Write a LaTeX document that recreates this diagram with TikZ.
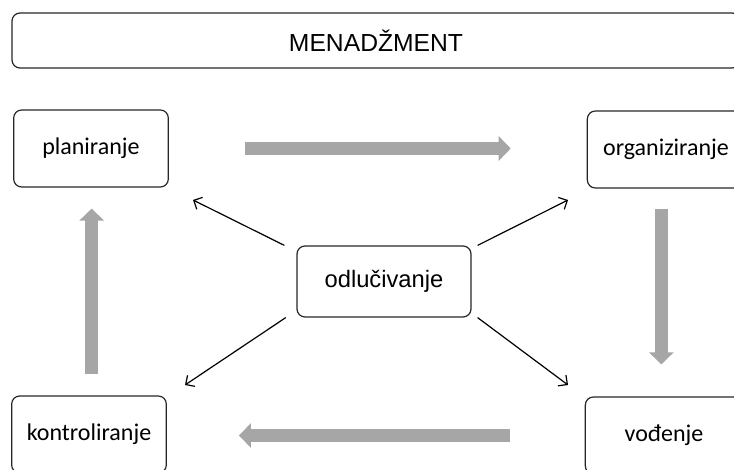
\documentclass[tikz,border=0pt]{standalone}
\usepackage{fontspec}
\setmainfont{Carlito}
\newfontfamily\arialfont{Liberation Sans}
\usetikzlibrary{arrows.meta}
\definecolor{flowgray}{HTML}{A6A6A6}
\tikzset{
  box/.style={rectangle, rounded corners=6pt, draw=black!85, line width=0.9pt, minimum width=116pt, minimum height=57.75pt, font=\fontsize{18}{21}\selectfont},
  flow/.style={draw=flowgray, line width=9.75pt, -{Triangle[width=18pt,length=9pt]}},
  link/.style={line width=0.9pt, -{Straight Barb[length=5pt,width=10pt]}}
}
\begin{document}
\begin{tikzpicture}[x=0.75pt, y=-0.75pt]
    \useasboundingbox (0,0) rectangle (734,470);
    \node[box, minimum width=546pt, minimum height=41.25pt, font=\arialfont\fontsize{18.5}{22}\selectfont] (mgmt) at (376,40.5) {MENADŽMENT};

    \node[box] (plan) at (91,148.5) {planiranje};
    \node[box, minimum width=118pt] (org) at (666,149.5) {organiziranje};
    \node[box] (kon) at (89,434.5) {kontroliranje};
    \node[box, minimum width=118pt] (vod) at (664,435.5) {vođenje};
    \node[box, minimum width=130.5pt, minimum height=53.25pt, font=\arialfont\fontsize{17.8}{21}\selectfont] (odl) at (384,281.5) {odlučivanje};

    % management cycle
    \draw[flow, shorten <=57pt, shorten >=57pt] (plan.east) -- (plan.east -| org.west);
    \draw[flow, shorten <=15pt, shorten >=24pt] ([xshift=-3.5pt]org.south) -- ([xshift=-3.5pt]org.south |- vod.north);
    \draw[flow, shorten <=56.25pt, shorten >=54pt] (vod.west) -- (vod.west -| kon.east);
    \draw[flow, shorten <=15.75pt, shorten >=15.75pt] ([xshift=2pt]kon.north) -- ([xshift=2pt]kon.north |- plan.south);

    % decisions reach every function
    \coordinate (tUL) at (193,200);
    \coordinate (tUR) at (568,200);
    \coordinate (tLL) at (185,385);
    \coordinate (tLR) at (568,385);
    \draw[link] ([xshift=-9pt]odl.north west) -- (tUL);
    \draw[link] ([xshift=4.5pt]odl.north east) -- (tUR);
    \draw[link] ([xshift=-8pt]odl.south west) -- (tLL);
    \draw[link] ([xshift=4.5pt]odl.south east) -- (tLR);
\end{tikzpicture}
\end{document}
